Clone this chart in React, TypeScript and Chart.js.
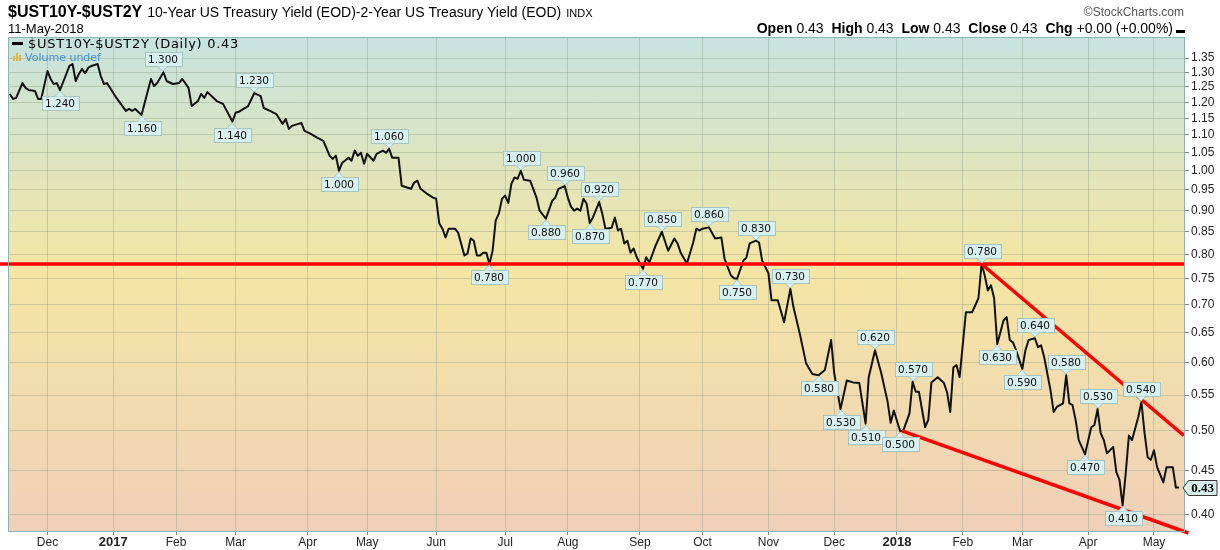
import React, { useEffect, useRef } from "react";
import { Chart, registerables } from "chart.js";

Chart.register(...registerables);

const SANS = '"Liberation Sans", Arial, sans-serif';
const VERD = '"DejaVu Sans", Verdana, sans-serif';

// trading-day index (0 = 1 Dec 2016) of each month's first session
const monthTickIndex = [0, 21, 41, 60, 83, 102, 124, 146, 166, 189, 209, 230, 251, 271, 292, 311, 332, 353];
const monthTickLabels = ["Dec", "2017", "Feb", "Mar", "Apr", "May", "Jun", "Jul", "Aug", "Sep", "Oct", "Nov", "Dec", "2018", "Feb", "Mar", "Apr", "May"];

const yTickValues = [0.4, 0.45, 0.5, 0.55, 0.6, 0.65, 0.7, 0.75, 0.8, 0.85, 0.9, 0.95, 1.0, 1.05, 1.1, 1.15, 1.2, 1.25, 1.3, 1.35];

// $UST10Y-$UST2Y daily spread (trading-day index, value)
const dayIndex = [
  -12, -11, -10, -8, -7, -6, -4, -3, -2,
  0, 1, 2, 3, 4, 6, 7, 8, 9, 10, 11, 12, 13, 14, 16, 17, 18, 19,
  22, 25, 26, 27, 28, 30, 31, 33, 34, 35, 37, 38, 40,
  42, 43, 45, 46, 48, 49, 50, 51, 53, 54, 56, 59,
  60, 61, 64, 66, 68, 69, 71, 73, 75, 76, 77, 78, 81, 82,
  84, 86, 88, 90, 91, 92, 93, 94, 96, 97, 98, 99, 100, 101,
  102, 104, 105, 107, 108, 109, 110, 112, 113, 116, 117, 118, 119, 121, 123,
  124, 125, 126, 127, 128, 130, 131, 133, 134, 135, 136, 137, 138, 139, 140, 141, 142, 143, 144, 145,
  146, 147, 148, 149, 150, 151, 152, 154, 156, 157, 159, 161, 162, 163, 165,
  166, 167, 168, 169, 170, 171, 172, 173, 174, 176, 177, 178, 180, 181, 182, 183, 184, 185, 186, 187, 188,
  190, 191, 192, 194, 196, 198, 200, 201, 202, 204, 206, 207, 208,
  209, 211, 213, 215, 216, 218, 219, 220, 222, 223, 224, 226, 227, 228,
  230, 231, 233, 235, 237, 238, 240, 242, 244, 246, 248, 250,
  251, 253, 255, 257, 259, 261, 262, 264, 266, 268, 269, 270,
  272, 273, 275, 276, 277, 278, 280, 281, 282, 284, 286, 287, 288, 289, 290, 291,
  293, 295, 297, 298, 299, 300, 301, 302, 303, 305, 306, 307, 308, 309,
  311, 312, 313, 315, 316, 317, 318, 320, 321, 322, 324, 325, 326, 327, 328, 329, 331,
  333, 334, 335, 336, 337, 338, 340, 341, 342, 343, 344, 345, 346, 348, 349, 350, 351, 352,
  353, 354, 356, 357, 359, 360, 361,
];
const spreadValue = [
  1.227, 1.211, 1.214, 1.263, 1.247, 1.24, 1.237, 1.211, 1.211,
  1.304, 1.277, 1.26, 1.263, 1.24, 1.294, 1.322, 1.329, 1.27, 1.294, 1.311, 1.297, 1.315, 1.322, 1.329, 1.287, 1.26, 1.263,
  1.214, 1.173, 1.179, 1.173, 1.179, 1.16, 1.198, 1.277, 1.253, 1.263, 1.3, 1.27, 1.26,
  1.263, 1.277, 1.247, 1.188, 1.204, 1.227, 1.214, 1.233, 1.214, 1.204, 1.195, 1.14,
  1.167, 1.17, 1.188, 1.23, 1.22, 1.182, 1.173, 1.163, 1.133, 1.148, 1.118, 1.127, 1.136, 1.112,
  1.103, 1.092, 1.083, 1.041, 1.032, 1.041, 1.0, 1.021, 1.035, 1.027, 1.055, 1.041, 1.049, 1.019,
  1.046, 1.027, 1.046, 1.055, 1.049, 1.06, 1.035, 1.035, 0.961, 0.953, 0.969, 0.974, 0.953, 0.941, 0.931,
  0.928, 0.869, 0.857, 0.837, 0.857, 0.857, 0.848, 0.798, 0.802, 0.835, 0.83, 0.798, 0.798, 0.804, 0.804, 0.78, 0.808, 0.876, 0.892, 0.928,
  0.936, 0.918, 0.966, 0.982, 0.979, 1.0, 0.976, 0.974, 0.931, 0.899, 0.88, 0.923, 0.931, 0.953, 0.96,
  0.931, 0.909, 0.899, 0.904, 0.899, 0.928, 0.916, 0.87, 0.883, 0.92, 0.892, 0.857, 0.859, 0.883, 0.853, 0.857, 0.824, 0.83, 0.804, 0.813, 0.794,
  0.77, 0.794, 0.783, 0.819, 0.85, 0.808, 0.835, 0.824, 0.804, 0.781, 0.826, 0.857, 0.853,
  0.857, 0.86, 0.835, 0.837, 0.791, 0.757, 0.751, 0.75, 0.787, 0.794, 0.824, 0.83, 0.826, 0.787,
  0.761, 0.708, 0.708, 0.668, 0.73, 0.695, 0.648, 0.599, 0.582, 0.58, 0.588, 0.637,
  0.583, 0.53, 0.572, 0.569, 0.568, 0.51, 0.577, 0.62, 0.583, 0.541, 0.511, 0.528,
  0.5, 0.5, 0.524, 0.57, 0.555, 0.555, 0.505, 0.515, 0.569, 0.577, 0.568, 0.554, 0.526, 0.592, 0.596, 0.577,
  0.686, 0.686, 0.712, 0.78, 0.757, 0.727, 0.737, 0.712, 0.63, 0.671, 0.677, 0.637, 0.633, 0.62,
  0.59, 0.62, 0.637, 0.64, 0.625, 0.628, 0.608, 0.557, 0.526, 0.533, 0.538, 0.58, 0.538, 0.536, 0.515, 0.488, 0.47,
  0.505, 0.508, 0.53, 0.497, 0.488, 0.471, 0.479, 0.448, 0.439, 0.41, 0.447, 0.494, 0.488, 0.519, 0.54, 0.497, 0.466, 0.463,
  0.475, 0.454, 0.436, 0.454, 0.454, 0.43, 0.43,
];

// peak / trough annotations (1 = label above, -1 = label below)
const annIndex = [4, 37, 30, 66, 59, 93, 109, 141, 151, 159, 165, 173, 176, 190, 196, 211, 220, 226, 237, 246, 253, 261, 264, 272, 276, 298, 303, 311, 315, 325, 331, 335, 343, 349];
const annValue = [1.24, 1.3, 1.16, 1.23, 1.14, 1.0, 1.06, 0.78, 1.0, 0.88, 0.96, 0.87, 0.92, 0.77, 0.85, 0.86, 0.75, 0.83, 0.73, 0.58, 0.53, 0.51, 0.62, 0.5, 0.57, 0.78, 0.63, 0.59, 0.64, 0.58, 0.47, 0.53, 0.41, 0.54];
const annSide = [-1, 1, -1, 1, -1, -1, 1, -1, 1, -1, 1, -1, 1, -1, 1, 1, -1, 1, 1, -1, -1, -1, 1, -1, 1, 1, -1, -1, 1, 1, -1, 1, -1, 1];

// red trend lines
const supportLevelIndex = [-15.2, 362.9];
const supportLevelValue = [0.78, 0.78];
const upperTrendIndex = [298, 362.5];
const upperTrendValue = [0.78, 0.494];
const lowerTrendIndex = [272.6, 364];
const lowerTrendValue = [0.5, 0.381];

const lastValue = 0.43;

const X_MIN = -12.6;
const X_MAX = 362.9;
const Y_MIN = 0.382;
const Y_MAX = 1.428;

function pts(xs: number[], ys: number[]) {
  return xs.map((x, i) => ({ x, y: ys[i] }));
}

const bgPlugin = {
  id: "bg",
  beforeDraw(chart: any) {
    const { ctx, chartArea: a } = chart;
    ctx.save();
    ctx.fillStyle = "#ffffff";
    ctx.fillRect(0, 0, chart.width, chart.height);
    const g = ctx.createLinearGradient(0, a.top, 0, a.bottom);
    g.addColorStop(0, "#c6e3de");
    g.addColorStop(0.47, "#f4e6a4");
    g.addColorStop(1, "#efd0b9");
    ctx.fillStyle = g;
    ctx.fillRect(a.left, a.top, a.right - a.left, a.bottom - a.top);
    ctx.restore();
  },
};

function drawRuns(ctx: CanvasRenderingContext2D, runs: [string, string][], x: number, y: number, measureOnly = false) {
  let cx = x;
  for (const [font, text] of runs) {
    ctx.font = font;
    if (!measureOnly) ctx.fillText(text, cx, y);
    cx += ctx.measureText(text).width;
  }
  return cx - x;
}

function pointerPath(ctx: CanvasRenderingContext2D, px: number, py: number, t: number, h: number, up: boolean) {
  ctx.beginPath();
  if (up) {
    ctx.moveTo(px - 5, t + h);
    ctx.lineTo(px, py - 1);
    ctx.lineTo(px + 5, t + h);
  } else {
    ctx.moveTo(px - 5, t);
    ctx.lineTo(px, py + 1);
    ctx.lineTo(px + 5, t);
  }
}

const labelsPlugin = {
  id: "peakLabels",
  afterDatasetsDraw(chart: any) {
    const { ctx, scales } = chart;
    const xs = scales.x;
    const ys = scales.y;
    ctx.save();
    ctx.font = `10.5px ${VERD}`;
    ctx.textAlign = "center";
    ctx.textBaseline = "middle";
    annIndex.forEach((d, i) => {
      const v = annValue[i];
      const up = annSide[i] > 0;
      const px = Math.round(xs.getPixelForValue(d));
      const py = Math.round(ys.getPixelForValue(v));
      const text = v.toFixed(3);
      const w = Math.ceil(ctx.measureText(text).width) + 6;
      const h = 14;
      const ptr = 6;
      const l = Math.round(px - w / 2) + 0.5;
      const t = (up ? py - ptr - h : py + ptr) + 0.5;
      ctx.fillStyle = "#d8f0ee";
      ctx.strokeStyle = "#a7c4c2";
      ctx.lineWidth = 1;
      ctx.fillRect(l, t, w, h);
      ctx.strokeRect(l, t, w, h);
      pointerPath(ctx, px, py, t, h, up);
      ctx.closePath();
      ctx.fillStyle = "#d8f0ee";
      ctx.fill();
      pointerPath(ctx, px, py, t, h, up);
      ctx.stroke();
      ctx.fillStyle = "#111";
      ctx.fillText(text, px, t + h / 2 + 0.5);
    });
    ctx.restore();
  },
  afterDraw(chart: any) {
    const { ctx, chartArea: a, scales } = chart;
    ctx.save();
    // frame
    ctx.strokeStyle = "#8db3b3";
    ctx.lineWidth = 1;
    ctx.strokeRect(a.left + 0.5, a.top + 0.5, a.right - a.left - 1, a.bottom - a.top - 1);

    ctx.textAlign = "left";
    ctx.textBaseline = "alphabetic";
    ctx.fillStyle = "#000";
    // title
    const tw = drawRuns(ctx, [[`bold 16px ${SANS}`, "$UST10Y-$UST2Y"]], 8, 17);
    const sw = drawRuns(ctx, [[`14px ${SANS}`, "10-Year US Treasury Yield (EOD)-2-Year US Treasury Yield (EOD)"]], 8 + tw + 5, 17);
    drawRuns(ctx, [[`11px ${SANS}`, "INDX"]], 8 + tw + 5 + sw + 5, 17);
    drawRuns(ctx, [[`13px ${SANS}`, "11-May-2018"]], 8, 33);

    // copyright
    ctx.fillStyle = "#555";
    ctx.font = `12px ${SANS}`;
    ctx.textAlign = "right";
    ctx.fillText("\u00A9StockCharts.com", 1184, 16);
    ctx.textAlign = "left";
    ctx.fillStyle = "#000";

    // OHLC line
    const B = `bold 14px ${SANS}`;
    const N = `14px ${SANS}`;
    const runs: [string, string][] = [
      [B, "Open"], [N, " 0.43  "], [B, "High"], [N, " 0.43  "], [B, "Low"], [N, " 0.43  "],
      [B, "Close"], [N, " 0.43  "], [B, "Chg"], [N, " +0.00 (+0.00%)"],
    ];
    const total = drawRuns(ctx, runs, 0, 0, true);
    drawRuns(ctx, runs, 1173 - total, 33);
    ctx.fillRect(1176, 30, 9, 3);

    // legend inside plot
    ctx.fillRect(12, 42, 11, 3);
    ctx.font = `13px ${VERD}`;
    (ctx as any).letterSpacing = "0.7px";
    ctx.fillText("$UST10Y-$UST2Y (Daily) 0.43", 28, 48);
    (ctx as any).letterSpacing = "0px";
    ctx.fillStyle = "#e2b640";
    ctx.fillRect(13, 56, 2, 5);
    ctx.fillRect(16, 53, 2, 8);
    ctx.fillRect(19, 55, 2, 6);
    ctx.fillStyle = "#3f8fd6";
    ctx.font = `11px ${VERD}`;
    ctx.fillText("Volume undef", 25, 61);

    // last value tag
    const ly = Math.round(scales.y.getPixelForValue(lastValue));
    const tl = 1188.5;
    const th = 15;
    ctx.beginPath();
    ctx.moveTo(1183, ly);
    ctx.lineTo(tl, ly - th / 2);
    ctx.lineTo(1217, ly - th / 2);
    ctx.lineTo(1217, ly + th / 2);
    ctx.lineTo(tl, ly + th / 2);
    ctx.closePath();
    ctx.fillStyle = "#d8f0ee";
    ctx.fill();
    ctx.strokeStyle = "#333";
    ctx.lineWidth = 1;
    ctx.stroke();
    ctx.fillStyle = "#000";
    ctx.font = `bold 13px "Liberation Serif", serif`;
    ctx.textAlign = "center";
    ctx.textBaseline = "middle";
    ctx.fillText(lastValue.toFixed(2), 1202.5, ly + 1);
    ctx.restore();
  },
};

export default function App() {
  const ref = useRef<HTMLCanvasElement | null>(null);
  useEffect(() => {
    document.body.style.margin = "0";
    const canvas = ref.current;
    if (!canvas) return;
    const gridColor = "rgba(120,135,115,0.3)";
    const chart = new Chart(canvas, {
      type: "line",
      data: {
        datasets: [
          {
            data: pts(supportLevelIndex, supportLevelValue),
            borderColor: "#ff0000",
            borderWidth: 3.5,
            pointRadius: 0,
            order: 1,
            clip: { left: 10, right: 0, top: 0, bottom: 0 } as any,
          },
          {
            data: pts(upperTrendIndex, upperTrendValue),
            borderColor: "#ff0000",
            borderWidth: 3.5,
            pointRadius: 0,
            order: 1,
          },
          {
            data: pts(lowerTrendIndex, lowerTrendValue),
            borderColor: "#ff0000",
            borderWidth: 3.5,
            pointRadius: 0,
            order: 1,
            clip: { left: 0, right: 8, top: 0, bottom: 4 } as any,
          },
          {
            data: pts(dayIndex, spreadValue),
            borderColor: "#111111",
            borderWidth: 2,
            pointRadius: 0,
            tension: 0,
            borderJoinStyle: "round",
            order: 2,
          },
        ],
      },
      options: {
        responsive: false,
        animation: false,
        events: [],
        layout: { padding: { left: 8, top: 37, right: 0, bottom: 0 } },
        plugins: { legend: { display: false }, tooltip: { enabled: false } },
        scales: {
          x: {
            type: "linear",
            min: X_MIN,
            max: X_MAX,
            afterBuildTicks: (s: any) => {
              s.ticks = monthTickIndex.map((v) => ({ value: v }));
            },
            afterFit: (s: any) => {
              s.height = 18;
            },
            ticks: {
              autoSkip: false,
              maxRotation: 0,
              padding: 0,
              color: "#222",
              callback: (_v: any, i: number) => monthTickLabels[i],
              font: (c: any) => {
                const lab = monthTickLabels[c.index] || "";
                return /^\d{4}$/.test(lab)
                  ? { family: SANS, size: 13, weight: "bold" }
                  : { family: SANS, size: 12, weight: "normal" };
              },
            },
            grid: { color: gridColor, tickLength: 3, tickColor: "#999" },
            border: { display: false },
          },
          y: {
            type: "logarithmic",
            position: "right",
            min: Y_MIN,
            max: Y_MAX,
            afterBuildTicks: (s: any) => {
              s.ticks = yTickValues.map((v) => ({ value: v }));
            },
            afterFit: (s: any) => {
              s.width = 35;
            },
            ticks: {
              autoSkip: false,
              padding: 2,
              color: "#222",
              font: { family: SANS, size: 12 },
              callback: (v: any) => Number(v).toFixed(2),
            },
            grid: { color: gridColor, tickLength: 4, tickColor: "#888" },
            border: { display: false },
          },
        },
      } as any,
      plugins: [bgPlugin, labelsPlugin],
    });
    return () => chart.destroy();
  }, []);
  return <canvas ref={ref} width={1220} height={550} style={{ display: "block", width: 1220, height: 550 }} />;
}
